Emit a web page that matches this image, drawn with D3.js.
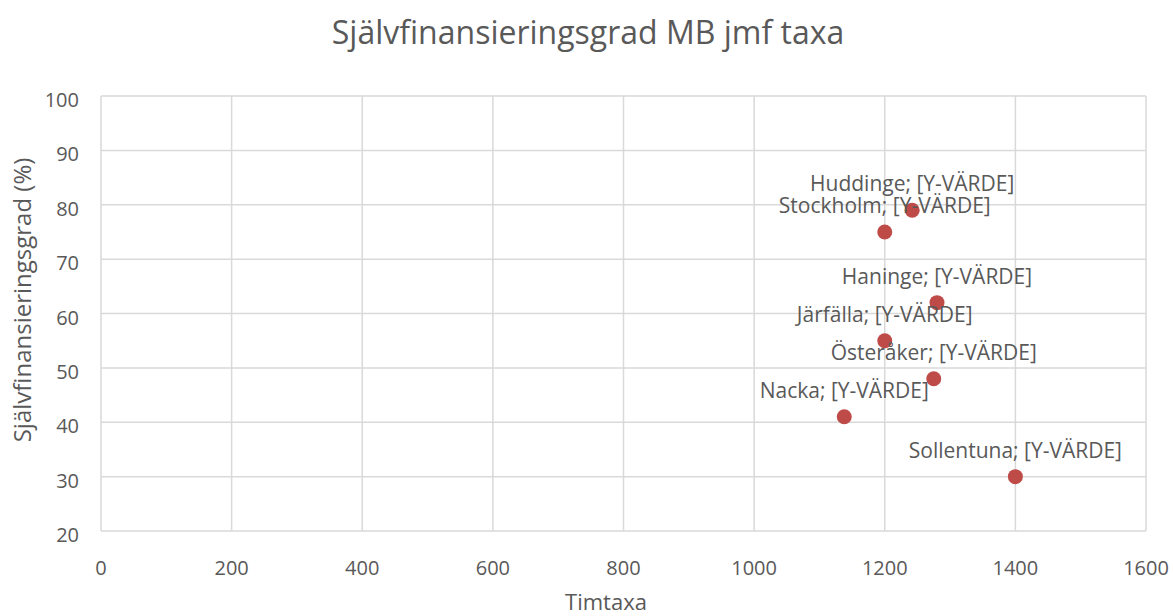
<!DOCTYPE html>
<html>
<head>
<meta charset="utf-8">
<script src="https://d3js.org/d3.v7.min.js"></script>
<style>
    body { margin: 0; padding: 0; background: #fff; }
    text { font-family: 'Open Sans', 'Noto Sans', sans-serif; fill: #595959; }
</style>
<title>Självfinansieringsgrad MB jmf taxa</title>
</head>
<body>
<div id="chart"></div>
<script>
    // municipalities with hourly rate and self-financing degree
    var kommuner = ["Huddinge", "Stockholm", "Haninge", "Järfälla", "Österåker", "Nacka", "Sollentuna"];
    var timtaxa = [1242, 1200, 1280, 1200, 1275, 1138, 1400];
    var grad = [79, 75, 62, 55, 48, 41, 30];

    var xTicks = [0, 200, 400, 600, 800, 1000, 1200, 1400, 1600];
    var yTicks = [20, 30, 40, 50, 60, 70, 80, 90, 100];

    var width = 1173, height = 616;
    var plotLeft = 101, plotRight = 1146, plotTop = 96, plotBottom = 531;

    var svg = d3.select("#chart").append("svg")
        .attr("width", width)
        .attr("height", height);

    var x = d3.scaleLinear().domain([0, 1600]).range([plotLeft, plotRight]);
    var y = d3.scaleLinear().domain([20, 100]).range([plotBottom, plotTop]);

    // grid lines
    svg.append("g").selectAll("line")
        .data(xTicks)
        .enter().append("line")
        .attr("x1", function (d) { return x(d); })
        .attr("x2", function (d) { return x(d); })
        .attr("y1", plotTop)
        .attr("y2", plotBottom)
        .attr("stroke", "#d9d9d9")
        .attr("stroke-width", 1.5);

    svg.append("g").selectAll("line")
        .data(yTicks)
        .enter().append("line")
        .attr("x1", plotLeft)
        .attr("x2", plotRight)
        .attr("y1", function (d) { return y(d); })
        .attr("y2", function (d) { return y(d); })
        .attr("stroke", "#d9d9d9")
        .attr("stroke-width", 1.5);

    // tick labels
    svg.append("g").selectAll("text")
        .data(xTicks)
        .enter().append("text")
        .attr("x", function (d) { return x(d); })
        .attr("y", plotBottom + 44)
        .attr("text-anchor", "middle")
        .style("font-size", "20px")
        .text(function (d) { return d; });

    svg.append("g").selectAll("text")
        .data(yTicks)
        .enter().append("text")
        .attr("x", plotLeft - 22)
        .attr("y", function (d) { return y(d) + 11; })
        .attr("text-anchor", "end")
        .style("font-size", "20px")
        .text(function (d) { return d; });

    // titles
    svg.append("text")
        .attr("x", 588)
        .attr("y", 44)
        .attr("text-anchor", "middle")
        .style("font-size", "32px")
        .text("Självfinansieringsgrad MB jmf taxa");

    svg.append("text")
        .attr("x", 606)
        .attr("y", 610)
        .attr("text-anchor", "middle")
        .style("font-size", "22px")
        .text("Timtaxa");

    svg.append("text")
        .attr("transform", "translate(31,300) rotate(-90)")
        .attr("text-anchor", "middle")
        .style("font-size", "24px")
        .text("Självfinansieringsgrad (%)");

    // points
    var pts = kommuner.map(function (k, i) {
        return { namn: k, tx: timtaxa[i], g: grad[i] };
    });

    svg.append("g").selectAll("circle")
        .data(pts)
        .enter().append("circle")
        .attr("cx", function (d) { return x(d.tx); })
        .attr("cy", function (d) { return y(d.g); })
        .attr("r", 7.5)
        .attr("fill", "#be4b48");

    // data labels
    svg.append("g").selectAll("text")
        .data(pts)
        .enter().append("text")
        .attr("x", function (d) { return x(d.tx); })
        .attr("y", function (d) { return y(d.g) - 19; })
        .attr("text-anchor", "middle")
        .style("font-size", "21px")
        .text(function (d) { return d.namn + "; [Y-VÄRDE]"; });
</script>
</body>
</html>
